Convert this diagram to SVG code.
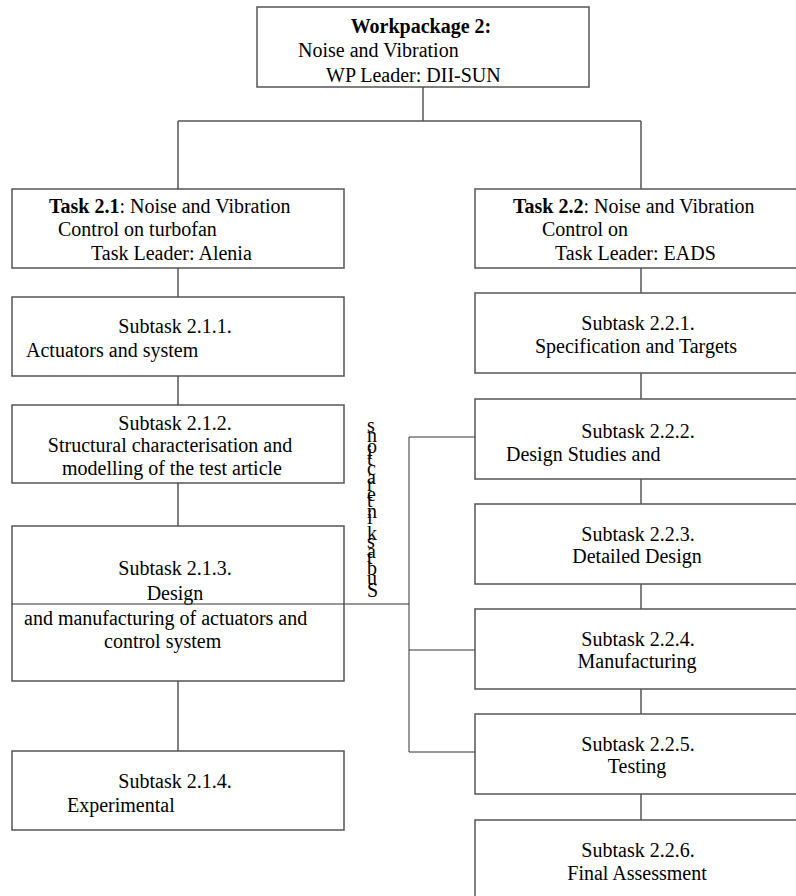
<svg xmlns="http://www.w3.org/2000/svg" width="796" height="896" viewBox="0 0 796 896">
<style>
.box{fill:#fff;stroke:#555;stroke-width:1.5}
.t{font-family:"Liberation Serif","Times New Roman",serif;font-size:20px;fill:#000}
.c{text-anchor:middle}
.b{font-weight:bold}
.con{stroke:#555;stroke-width:1.5;fill:none}
.con2{stroke:#333;stroke-width:1;fill:none}
</style>
<rect width="796" height="896" fill="#fff"/>
<g id="connectors">
<path class="con" d="M423 87V121M178 121H641M178 121V189M641 121V189"/>
<path class="con" d="M178 268V297M178 376V405M178 483V526M178 681V751"/>
<path class="con" d="M641 268V293M641 373V399M641 479V504M641 584V609M641 689V714M641 794V820"/>
<path class="con2" d="M409 437V752M409 437H475M409 650H475M409 752H475M344 604H409"/>
</g>
<g id="wp">
<rect class="box" x="257" y="7" width="332" height="80"/>
<text class="t b c" x="421" y="33">Workpackage 2:</text>
<text class="t" x="298" y="57">Noise and Vibration</text>
<text class="t" x="326" y="82">WP Leader: DII-SUN</text>
</g>
<g id="task21">
<rect class="box" x="12" y="189" width="332" height="79"/>
<text class="t" x="49" y="213"><tspan class="b">Task 2.1</tspan>: Noise and Vibration</text>
<text class="t" x="58" y="236">Control on turbofan</text>
<text class="t" x="91" y="260">Task Leader: Alenia</text>
</g>
<g id="sub211">
<rect class="box" x="12" y="297" width="332" height="79"/>
<text class="t c" x="175" y="333">Subtask 2.1.1.</text>
<text class="t" x="26" y="357">Actuators and system</text>
</g>
<g id="sub212">
<rect class="box" x="12" y="405" width="332" height="78"/>
<text class="t c" x="175" y="430">Subtask 2.1.2.</text>
<text class="t c" x="170" y="452">Structural characterisation and</text>
<text class="t c" x="172" y="475">modelling of the test article</text>
</g>
<g id="sub213">
<rect class="box" x="12" y="526" width="332" height="155"/>
<text class="t c" x="175" y="575">Subtask 2.1.3.</text>
<text class="t c" x="175" y="600">Design</text>
<text class="t" x="24" y="625">and manufacturing of actuators and</text>
<text class="t" x="104" y="648">control system</text>
</g>
<line class="con2" x1="12" y1="604" x2="344" y2="604"/>
<g id="sub214">
<rect class="box" x="12" y="751" width="332" height="79"/>
<text class="t c" x="175" y="788">Subtask 2.1.4.</text>
<text class="t" x="67" y="812">Experimental</text>
</g>
<g id="task22">
<rect class="box" x="475" y="189" width="332" height="79"/>
<text class="t" x="513" y="213"><tspan class="b">Task 2.2</tspan>: Noise and Vibration</text>
<text class="t" x="542" y="236">Control on</text>
<text class="t" x="555" y="260">Task Leader: EADS</text>
</g>
<g id="sub221">
<rect class="box" x="475" y="293" width="332" height="80"/>
<text class="t c" x="638" y="330">Subtask 2.2.1.</text>
<text class="t c" x="636" y="353">Specification and Targets</text>
</g>
<g id="sub222">
<rect class="box" x="475" y="399" width="332" height="80"/>
<text class="t c" x="638" y="438">Subtask 2.2.2.</text>
<text class="t" x="506" y="461">Design Studies and</text>
</g>
<g id="sub223">
<rect class="box" x="475" y="504" width="332" height="80"/>
<text class="t c" x="638" y="541">Subtask 2.2.3.</text>
<text class="t c" x="637" y="563">Detailed Design</text>
</g>
<g id="sub224">
<rect class="box" x="475" y="609" width="332" height="80"/>
<text class="t c" x="638" y="646">Subtask 2.2.4.</text>
<text class="t c" x="637" y="668">Manufacturing</text>
</g>
<g id="sub225">
<rect class="box" x="475" y="714" width="332" height="80"/>
<text class="t c" x="638" y="751">Subtask 2.2.5.</text>
<text class="t c" x="637" y="773">Testing</text>
</g>
<g id="sub226">
<rect class="box" x="475" y="820" width="332" height="80"/>
<text class="t c" x="638" y="857">Subtask 2.2.6.</text>
<text class="t c" x="637" y="880">Final Assessment</text>
</g>
<g id="label">
<text class="t" transform="translate(367 597) rotate(-90)" rotate="90" letter-spacing="0.6">Subtask interactions</text>
</g>
</svg>
